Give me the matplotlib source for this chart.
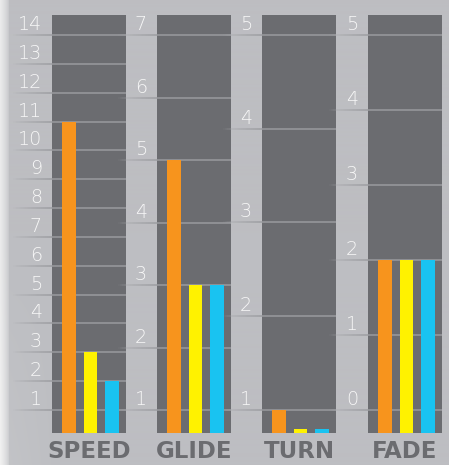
import numpy as np
import matplotlib
matplotlib.use("Agg")
import matplotlib.pyplot as plt
from matplotlib.transforms import blended_transform_factory, ScaledTranslation
from matplotlib.collections import LineCollection

# Flight numbers for three discs, one panel per rating
categories = ["SPEED", "GLIDE", "TURN", "FADE"]
disc_orange = [11, 5, 1, 2]
disc_yellow = [3, 3, 0.8, 2]
disc_blue = [2, 3, 0.8, 2]
tick_values = [
    list(range(1, 15)),
    list(range(1, 8)),
    list(range(1, 6)),
    list(range(0, 6)),
]

BAR_COLORS = ["#f7941d", "#fff200", "#19c3f1"]
BG = "#bdbec2"
PANEL = "#6b6c70"
GRID_IN = "#909195"
GRID_OUT = "#a3a4a8"
LABEL = "#6b6c70"

W, H = 449, 465
DPI = 100
fig = plt.figure(figsize=(W / DPI, H / DPI), dpi=DPI, facecolor=BG)

# soft white strip along the left edge
bg_ax = fig.add_axes([0, 0, 1, 1], zorder=-10)
bg_ax.set_axis_off()
xs = np.linspace(0, W, W)
ys = np.linspace(0, H, H)
X, Y = np.meshgrid(xs, ys)
white = np.clip(1 - X / 9.0, 0, 1) ** 0.6 * 0.85
haze = np.clip(1 - X / 60.0, 0, 1) * np.clip((Y - 250) / 215.0, 0, 1) * 0.12
mix = np.clip(white + haze, 0, 1)
base = np.array(matplotlib.colors.to_rgb(BG))
img = base[None, None, :] * (1 - mix[..., None]) + np.array([0.95, 0.95, 0.95])[None, None, :] * mix[..., None]
bg_ax.imshow(img, extent=[0, 1, 0, 1], aspect="auto", origin="upper")
bg_ax.set_xlim(0, 1)
bg_ax.set_ylim(0, 1)

panel_left_px = [52, 157, 262, 368]
panel_w_px = 74
top_px, bottom_px = 15, 433
tick_top_px, tick_bot_px = 35, 410

values = list(zip(disc_orange, disc_yellow, disc_blue))

for i, cat in enumerate(categories):
    ticks = tick_values[i]
    tmin, tmax = ticks[0], ticks[-1]
    scale = (tick_bot_px - tick_top_px) / (tmax - tmin)
    ylo = tmin - (bottom_px - tick_bot_px) / scale
    yhi = tmax + (tick_top_px - top_px) / scale

    left = panel_left_px[i] / W
    bottom = (H - bottom_px) / H
    ax = fig.add_axes([left, bottom, panel_w_px / W, (bottom_px - top_px) / H])
    ax.set_facecolor(PANEL)
    for s in ax.spines.values():
        s.set_visible(False)
    ax.set_xticks([])
    ax.set_yticks([])
    ax.set_xlim(-0.79, 2.65)
    ax.set_ylim(ylo, yhi)

    for t in ticks:
        ax.axhline(t, color=GRID_IN, lw=1.4, zorder=1)

    x = np.arange(3)
    heights = [v - ylo for v in values[i]]
    ax.bar(x, heights, bottom=ylo, width=0.65, color=BAR_COLORS, zorder=2)

    # tick labels and fading guide lines to the left of the panel
    trans = blended_transform_factory(ax.transAxes, ax.transData)
    for t in ticks:
        ax.text(0, t, str(t), transform=trans + ScaledTranslation(-10 / DPI, 1 / DPI, fig.dpi_scale_trans),
                ha="right", va="bottom", fontsize=13.8, color="#f7f7f7",
                family="DejaVu Sans", fontweight=200, clip_on=False)
        n = 30
        xs_line = np.linspace(-40, 0, n + 1) / panel_w_px
        segs = [[(xs_line[k], t), (xs_line[k + 1], t)] for k in range(n)]
        alphas = np.linspace(0.0, 1.0, n) ** 0.8
        cols = [matplotlib.colors.to_rgba(GRID_OUT, a) for a in alphas]
        lc = LineCollection(segs, colors=cols, linewidths=1.4, transform=trans, clip_on=False, zorder=0)
        ax.add_collection(lc)

    ax.text(0.5, -(451 - bottom_px) / (bottom_px - top_px), cat, transform=ax.transAxes,
            ha="center", va="center", fontsize=16.5, fontweight="bold", color=LABEL,
            family="DejaVu Sans", clip_on=False)

fig.savefig("out.png", dpi=DPI, facecolor=BG)
